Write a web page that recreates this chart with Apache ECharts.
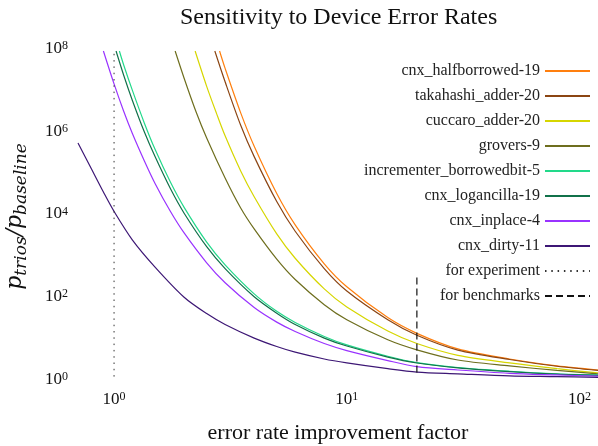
<!DOCTYPE html>
<html>
<head>
<meta charset="utf-8">
<script src="https://cdn.jsdelivr.net/npm/echarts@6/dist/echarts.min.js"></script>
<style>
  html, body { margin: 0; padding: 0; background: #fff; }
  #chart { width: 598px; height: 446px; }
</style>
</head>
<body>
<div id="chart"></div>
<script>
// ---------- data: [improvement factor, p_trios / p_baseline] ----------
const halfborrowed = [[2.84, 1e8], [3, 3.8e7], [3.5, 3.2e6], [4, 5.0e5], [5, 3.6e4], [6, 6.3e3], [8, 720], [10, 200], [15, 36], [20, 15], [30, 6.3], [50, 3.6], [80, 2.45], [120, 1.95]]
const takahashi = [[2.71, 1e8], [3, 1.8e7], [3.5, 1.6e6], [4, 2.8e5], [5, 2.3e4], [6, 4.4e3], [8, 550], [10, 158], [15, 32], [20, 13.5], [30, 5.9], [50, 3.5], [80, 2.4], [120, 1.9]]
const cuccaro = [[2.23, 1e8], [2.5, 1.4e7], [2.75, 3.2e6], [3, 8.9e5], [3.5, 1.26e5], [4, 3.0e4], [5, 3.8e3], [6, 980], [8, 178], [10, 65], [15, 17], [20, 8.5], [30, 4.4], [50, 2.9], [80, 2.1], [120, 1.66]]
const grovers = [[1.83, 1e8], [2, 2.2e7], [2.25, 3.4e6], [2.5, 7.9e5], [3, 8.5e4], [3.5, 1.6e4], [4, 5.0e3], [5, 930], [6, 300], [8, 74], [10, 32], [15, 10.5], [20, 6.0], [30, 3.4], [50, 2.45], [80, 1.9], [120, 1.58]]
const incrementer = [[1.054, 1e8], [1.1, 4.6e7], [1.2, 1.1e7], [1.35, 1.8e6], [1.5, 4.2e5], [1.75, 6.6e4], [2, 1.66e4], [2.5, 2.4e3], [3, 680], [4, 135], [5, 51], [6, 27.5], [8, 12.6], [10, 7.9], [15, 4.2], [20, 2.95], [30, 2.24], [50, 1.82], [80, 1.58], [120, 1.48]]
const logancilla = [[1.02, 1e8], [1.1, 2.6e7], [1.2, 6.3e6], [1.35, 1.1e6], [1.5, 2.8e5], [1.75, 4.6e4], [2, 1.2e4], [2.5, 1.86e3], [3, 550], [4, 115], [5, 46], [6, 24.5], [8, 11.5], [10, 7.4], [15, 4.0], [20, 2.88], [30, 2.19], [50, 1.78], [80, 1.55], [120, 1.45]]
const inplace = [[0.9, 1e8], [1, 1.6e7], [1.1, 3.5e6], [1.2, 1.0e6], [1.35, 2.2e5], [1.5, 6.3e4], [1.75, 1.3e4], [2, 4.0e3], [2.5, 760], [3, 250], [4, 63], [5, 28], [6, 16.6], [8, 8.5], [10, 5.75], [15, 3.3], [20, 2.35], [30, 1.95], [50, 1.62], [80, 1.48], [120, 1.38]]
const dirty = [[0.7, 6.0e5], [0.8, 1.4e5], [0.9, 3.9e4], [1, 1.33e4], [1.2, 2.7e3], [1.5, 600], [2, 112], [2.5, 45], [3, 24.5], [4, 11.5], [5, 7.2], [6, 5.25], [8, 3.6], [10, 2.9], [15, 2.1], [20, 1.74], [30, 1.58], [50, 1.41], [80, 1.35], [120, 1.29]]
const experimentLine = [[1, 1.35], [1, 1e8]]
const benchmarkLine = [[20, 1.7], [20, 350]]

const xTicks = [1, 10, 100]
const yTicks = [1, 1e2, 1e4, 1e6, 1e8]

const SERIF = 'Liberation Serif'

// 曲线配置（名称 / 颜色 / 数据）
const curves = [
  { name: 'cnx_halfborrowed-19', color: '#ff7f0e', data: halfborrowed },
  { name: 'takahashi_adder-20', color: '#8b4513', data: takahashi },
  { name: 'cuccaro_adder-20', color: '#d6d600', data: cuccaro },
  { name: 'grovers-9', color: '#6e6e1e', data: grovers },
  { name: 'incrementer_borrowedbit-5', color: '#22d98a', data: incrementer },
  { name: 'cnx_logancilla-19', color: '#11714a', data: logancilla },
  { name: 'cnx_inplace-4', color: '#9933ff', data: inplace },
  { name: 'cnx_dirty-11', color: '#3d1775', data: dirty },
]

/** 10^n 形式的刻度标签，非整数幂返回空 */
function powLabel(ticks) {
  return (v) => {
    const t = ticks.find((t) => Math.abs(Math.log10(v) - Math.log10(t)) < 1e-6)
    return t === undefined ? '' : '{b|10}{s|' + Math.round(Math.log10(t)) + '}'
  }
}

const tickRich = {
  b: { fontFamily: SERIF, fontSize: 17, lineHeight: 22, color: '#111', verticalAlign: 'top' },
  s: { fontFamily: SERIF, fontSize: 12, lineHeight: 12, color: '#111', verticalAlign: 'top' },
}

const series = curves.map((c) => ({
  name: c.name, type: 'line', data: c.data,
  symbol: 'none', smooth: 0.3,
  lineStyle: { width: 1.2, color: c.color },
  itemStyle: { color: c.color },
}))
series.push({
  name: 'for experiment', type: 'line', data: experimentLine, symbol: 'none',
  lineStyle: { width: 1, color: '#333', type: [1.5, 4.8] }, itemStyle: { color: '#333' },
})
series.push({
  name: 'for benchmarks', type: 'line', data: benchmarkLine, symbol: 'none',
  lineStyle: { width: 1.2, color: '#111', type: [7, 4] }, itemStyle: { color: '#111' },
})

const option = {
  animation: false,
  backgroundColor: '#fff',
  title: {
    text: 'Sensitivity to Device Error Rates',
    left: 175, top: 1,
    textStyle: { fontFamily: SERIF, fontWeight: 'normal', fontSize: 24, color: '#111' },
  },
  legend: {
    orient: 'vertical', right: 7, top: 63, align: 'right',
    itemWidth: 45, itemHeight: 14, itemGap: 9, padding: 0,
    itemStyle: { opacity: 0 },
    data: series.map((s) => s.name),
    textStyle: { fontFamily: SERIF, fontSize: 16, color: '#222' },
  },
  grid: { left: 78, right: 0, top: 51, bottom: 64, outerBoundsMode: 'none' },
  xAxis: {
    type: 'log', logBase: 10, min: 0.7, max: 120,
    name: 'error rate improvement factor', nameLocation: 'middle', nameGap: 40,
    nameTextStyle: { fontFamily: SERIF, fontSize: 22, color: '#111' },
    axisLine: { show: false }, axisTick: { show: false }, splitLine: { show: false },
    axisLabel: { margin: 9, formatter: powLabel(xTicks), rich: tickRich },
  },
  yAxis: {
    type: 'log', logBase: 10, min: 1, max: 1e8,
    name: '{p|p}{sub|trios}{p|/p}{sub|baseline}', nameLocation: 'middle', nameGap: 48, nameRotate: 90,
    nameTextStyle: {
      rich: {
        p: { fontFamily: 'DejaVu Serif', fontStyle: 'italic', fontSize: 22, lineHeight: 22, color: '#111', verticalAlign: 'top' },
        sub: { fontFamily: 'DejaVu Serif', fontStyle: 'italic', fontSize: 17, lineHeight: 26, color: '#111', verticalAlign: 'bottom' },
      },
    },
    axisLine: { show: false }, axisTick: { show: false }, splitLine: { show: false },
    axisLabel: { margin: 10, formatter: powLabel(yTicks), rich: tickRich },
  },
  series,
}

const chart = echarts.init(document.getElementById('chart'))
chart.setOption(option)
</script>
</body>
</html>
